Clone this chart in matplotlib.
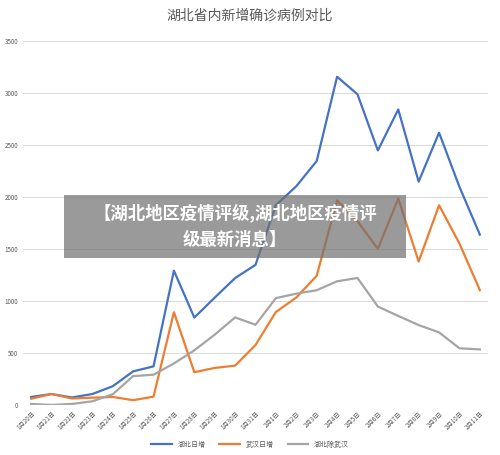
import matplotlib.pyplot as plt
from matplotlib.patches import Rectangle

plt.rcParams['font.family'] = ['Noto Sans CJK SC', 'DejaVu Sans']

dates = ['1月20日', '1月21日', '1月22日', '1月23日', '1月24日', '1月25日', '1月26日',
         '1月27日', '1月28日', '1月29日', '1月30日', '1月31日', '2月1日', '2月2日',
         '2月3日', '2月4日', '2月5日', '2月6日', '2月7日', '2月8日', '2月9日',
         '2月10日', '2月11日']
hubei = [77, 105, 72, 105, 180, 323, 371, 1291, 840, 1032, 1220, 1347, 1921, 2103,
         2345, 3156, 2987, 2447, 2841, 2147, 2618, 2097, 1638]
wuhan = [60, 105, 62, 70, 77, 46, 80, 892, 315, 356, 378, 576, 894, 1033,
         1242, 1967, 1766, 1501, 1985, 1379, 1920, 1552, 1104]
other = [10, 0, 10, 35, 103, 277, 291, 399, 525, 676, 842, 771, 1027, 1070,
         1103, 1189, 1221, 946, 856, 768, 698, 545, 534]

fig = plt.figure(figsize=(5.0, 4.55), dpi=100)
ax = fig.add_axes([0.046, 0.11, 0.93, 0.80])
x = range(len(dates))
ax.plot(x, hubei, color='#4472c4', lw=1.6, label='湖北日增')
ax.plot(x, wuhan, color='#ed7d31', lw=1.6, label='武汉日增')
ax.plot(x, other, color='#a5a5a5', lw=1.6, label='湖北除武汉')

ax.set_ylim(0, 3500)
ax.set_yticks(range(0, 3501, 500))
ax.set_xlim(-0.4, len(dates) - 0.6)
ax.set_xticks(list(x))
ax.set_xticklabels(dates, rotation=45, fontsize=4.5, color='#595959', ha='right', rotation_mode='anchor')
ax.tick_params(axis='y', labelsize=4.5, labelcolor='#595959', length=0)
ax.tick_params(axis='x', length=0)
ax.grid(axis='y', color='#d9d9d9', lw=0.7)
ax.set_axisbelow(True)
for s in ax.spines.values():
    s.set_visible(False)
ax.axhline(0, color='#d9d9d9', lw=0.8)

fig.text(0.5, 0.965, '湖北省内新增确诊病例对比', ha='center', va='center', fontsize=10, color='#595959')
fig.legend(loc='lower center', bbox_to_anchor=(0.5, 0.0), ncol=3, frameon=False, fontsize=5,
           labelcolor='#595959', handlelength=3)

# banner overlay
fig.patches.append(Rectangle((0.128, 0.432), 0.684, 0.14, transform=fig.transFigure,
                             facecolor='#707070', alpha=0.7, edgecolor='none'))
fig.text(0.47, 0.532, '【湖北地区疫情评级,湖北地区疫情评', ha='center', va='center',
         fontsize=12.5, color='white', fontweight='bold')
fig.text(0.47, 0.472, '级最新消息】', ha='center', va='center',
         fontsize=12.5, color='white', fontweight='bold')

fig.savefig('out.png', dpi=100)
